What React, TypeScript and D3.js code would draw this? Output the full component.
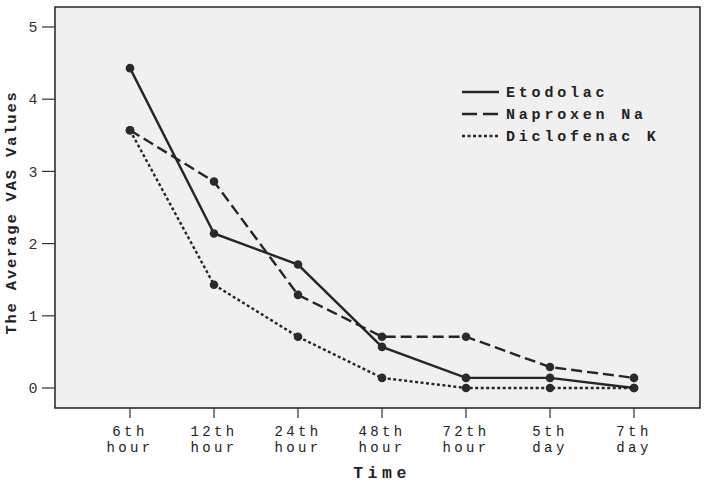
import React from 'react';
import * as d3 from 'd3';

const times = ['6th hour', '12th hour', '24th hour', '48th hour', '72th hour', '5th day', '7th day'];
const etodolac = [4.43, 2.14, 1.71, 0.57, 0.14, 0.14, 0];
const naproxen = [3.57, 2.86, 1.29, 0.71, 0.71, 0.29, 0.14];
const diclofenac = [3.57, 1.43, 0.71, 0.14, 0, 0, 0];
const seriesNames = ['Etodolac', 'Naproxen Na', 'Diclofenac K'];
const yTicks = [0, 1, 2, 3, 4, 5];

const W = 714, H = 483;
const plot = { left: 55, top: 7, right: 700, bottom: 408 };
const mono = '"Liberation Mono", "Courier New", monospace';

export default function App() {
  const x = d3.scalePoint<string>()
    .domain(times)
    .range([130, 634]);
  const y = d3.scaleLinear()
    .domain([0, 5])
    .range([388, 27]);

  const line = d3.line<number>()
    .x((d, i) => x(times[i]) as number)
    .y((d) => y(d));

  const series = [
    { name: seriesNames[0], values: etodolac, dash: 'none', legendDash: 'none' },
    { name: seriesNames[1], values: naproxen, dash: '11,5', legendDash: '15,6' },
    { name: seriesNames[2], values: diclofenac, dash: '3,2.5', legendDash: '3,2.5' },
  ];

  return (
    <svg width={W} height={H} style={{ position: 'absolute', left: 0, top: 0, background: '#fff' }}>
      <rect x={plot.left} y={plot.top} width={plot.right - plot.left} height={plot.bottom - plot.top}
            fill="#f0f0f0" stroke="#222" strokeWidth={1.5} />

      {/* y axis */}
      {yTicks.map((t) => (
        <g key={t}>
          <line x1={42} x2={plot.left} y1={y(t)} y2={y(t)} stroke="#333" strokeWidth={1.2} />
          <text x={33} y={y(t)} dy="0.35em" textAnchor="middle" fontFamily={mono} fontSize={15}
                fill="#333">{t}</text>
        </g>
      ))}
      <text transform={`translate(16, ${(plot.top + plot.bottom) / 2 + 5}) rotate(-90)`}
            textAnchor="middle" fontFamily={mono} fontSize={15.5} fontWeight="bold"
            letterSpacing={1.8} fill="#222">The Average VAS Values</text>

      {/* x axis */}
      {times.map((t) => {
        const [a, b] = t.split(' ');
        const px = x(t) as number;
        return (
          <g key={t}>
            <line x1={px} x2={px} y1={plot.bottom} y2={418} stroke="#333" strokeWidth={1.2} />
            <text x={px} y={436} textAnchor="middle" fontFamily={mono} fontSize={14}
                  letterSpacing={3.4} fill="#222">{a}</text>
            <text x={px} y={452} textAnchor="middle" fontFamily={mono} fontSize={14}
                  letterSpacing={3.4} fill="#222">{b}</text>
          </g>
        );
      })}
      <text x={382} y={478} textAnchor="middle" fontFamily={mono} fontSize={16.5} fontWeight="bold"
            letterSpacing={4.5} fill="#222">Time</text>

      {/* lines */}
      {series.map((s) => (
        <g key={s.name}>
          <path d={line(s.values) ?? ''} fill="none" stroke="#252525" strokeWidth={2.4}
                strokeDasharray={s.dash} />
          {s.values.map((v, i) => (
            <circle key={i} cx={x(times[i])} cy={y(v)} r={4.3} fill="#2a2a2a" />
          ))}
        </g>
      ))}

      {/* legend */}
      {series.map((s, i) => (
        <g key={s.name} transform={`translate(462, ${92 + i * 22})`}>
          <line x1={0} x2={37} y1={0} y2={0} stroke="#252525" strokeWidth={2.4}
                strokeDasharray={s.legendDash} />
          <text x={44} y={0} dy="0.35em" fontFamily={mono} fontSize={15} fontWeight="bold"
                letterSpacing={3.8} fill="#222">{s.name}</text>
        </g>
      ))}
    </svg>
  );
}
